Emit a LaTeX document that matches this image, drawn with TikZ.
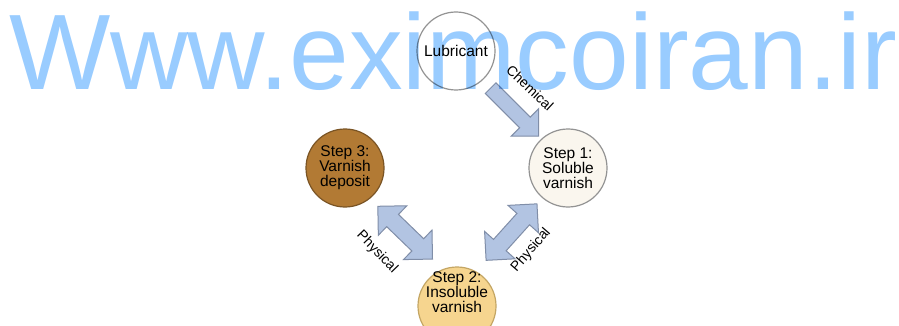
\documentclass[tikz,border=0pt]{standalone}
\usepackage{fontspec}
\setmainfont{Liberation Sans}
\usetikzlibrary{shapes.arrows,calc}
\definecolor{wmblue}{RGB}{153,204,255}
\definecolor{arrowfill}{RGB}{178,196,226}
\definecolor{arrowline}{RGB}{128,142,168}
\definecolor{brownfill}{RGB}{178,122,52}
\definecolor{brownline}{RGB}{122,84,36}
\definecolor{yellowfill}{RGB}{246,213,143}
\definecolor{yellowline}{RGB}{196,166,100}
\definecolor{creamfill}{RGB}{250,246,238}

\begin{document}
\begin{tikzpicture}[x=1pt, y=-1pt,
    stage/.style={circle, draw=gray!85, line width=1.2pt, minimum size=78pt, inner sep=0pt, align=center, font=\fontsize{15.5}{15}\selectfont},
    oneway/.style={single arrow, draw=arrowline, fill=arrowfill, line width=1pt, minimum height=68pt, single arrow head extend=12pt, inner sep=7pt},
    twoway/.style={double arrow, draw=arrowline, fill=arrowfill, line width=1pt, minimum height=76pt, double arrow head extend=12pt, inner sep=8pt},
    lbl/.style={font=\fontsize{14}{14}\selectfont, inner sep=0pt},]
    \useasboundingbox (0,0) rectangle (899,326);
    \clip (0,0) rectangle (899,326);
    \fill[white] (0,0) rectangle (899,326);
    \node[stage] (lub) at (456,51) {Lubricant};
    \node[stage, fill=creamfill] (sol) at (568,168) {Step 1:\\Soluble\\varnish};
    \node[stage, fill=brownfill, draw=brownline] (dep) at (345,168) {Step 3:\\Varnish\\deposit};
    \node[stage, fill=yellowfill, draw=yellowline] (ins) at (457,306) {};
    \node[align=center, inner sep=0pt, font=\fontsize{15.5}{15}\selectfont] (instext) at ($(ins)+(0,-14)$) {Step 2:\\Insoluble\\varnish};
    \node[oneway, rotate=-45] (chem) at ($(lub)!0.5!(sol)$) {};
    \node[twoway, rotate=-44, yshift=6pt] (phl) at ($(dep)!0.5!(ins)$) {};
    \node[twoway, rotate=48, xshift=3pt, yshift=4pt] (phr) at ($(sol)!0.5!(ins)$) {};
    \node[lbl, rotate=-43] at (530,88) {Chemical};
    \node[lbl, rotate=-46] at (377,252) {Physical};
    \node[lbl, rotate=49] at (531,250) {Physical};
    % watermark over the diagram
    \begin{scope}[blend mode=multiply]
      \node[anchor=base west, inner sep=0pt, text=wmblue, font=\fontsize{107.3}{107}\selectfont] (mark) at (9,90) {Www.eximcoiran.ir};
    \end{scope}
\end{tikzpicture}
\end{document}
